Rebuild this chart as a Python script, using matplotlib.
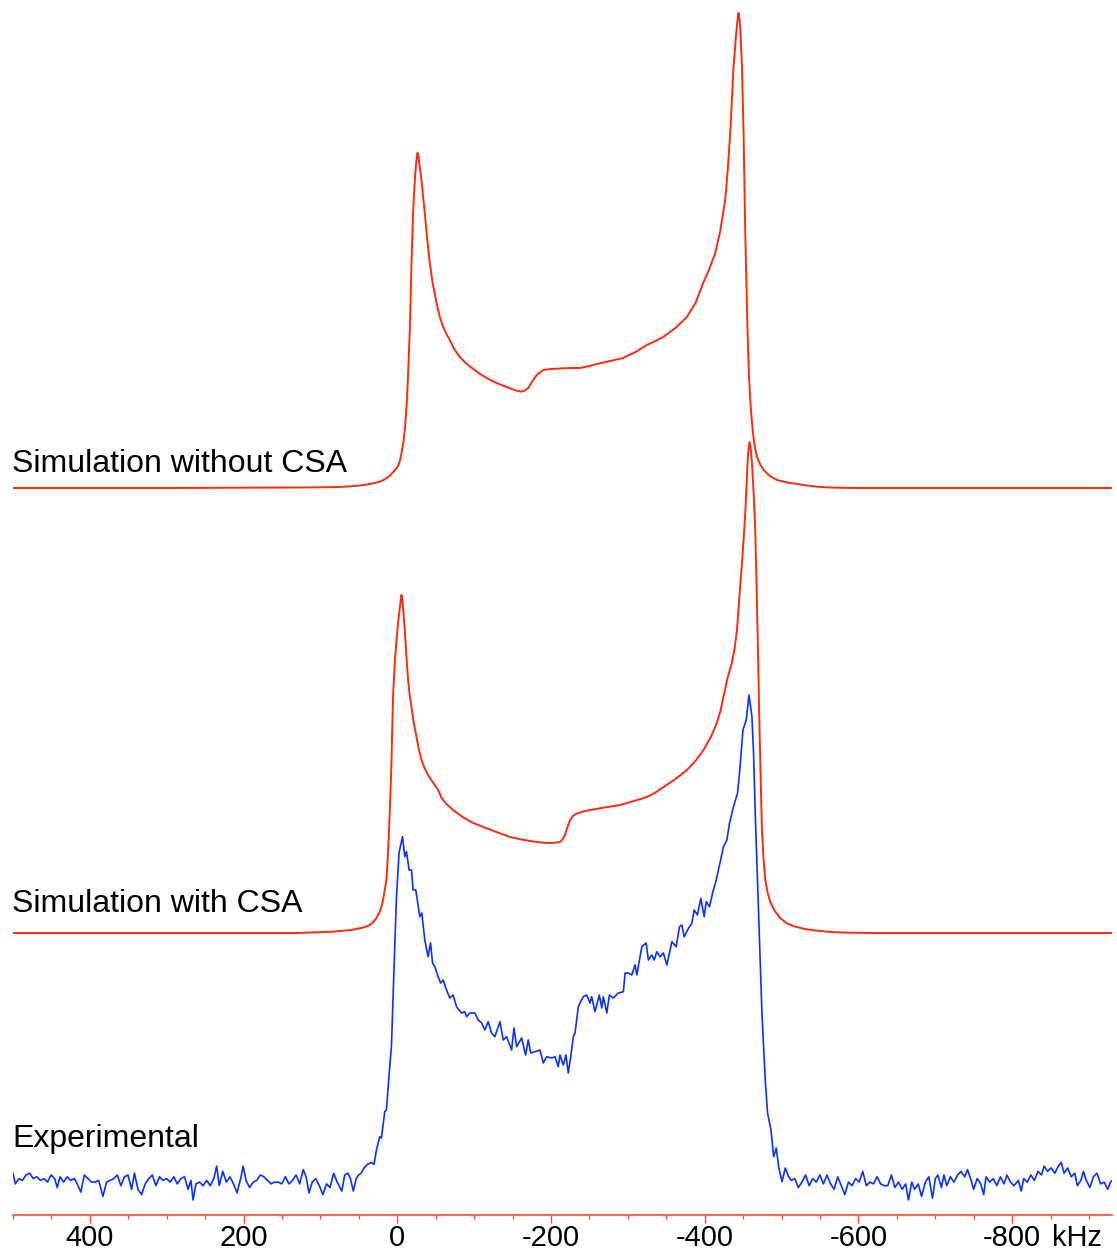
import matplotlib
matplotlib.use("Agg")
import matplotlib.pyplot as plt
from matplotlib.ticker import MultipleLocator, FixedLocator

plt.rcParams['font.family'] = ['Liberation Sans', 'DejaVu Sans']
plt.rcParams['axes.unicode_minus'] = False

# --- spectra: frequency (kHz) and intensity above each trace's own baseline (a.u.) ---

# simulation, quadrupolar interaction only
nocsa_khz = [500, 300, 200, 127, 100, 75, 60, 49, 42, 36, 29, 23, 18, 13.7, 10, 7.2, 4, 0.7,
             -1.5, -3.3, -4.8, -5.9, -8, -9.8, -11.3, -12.8, -14.5, -16.3, -17.4, -18.5,
             -19.6, -20.6, -22, -23.5, -25, -26.3, -27.5, -28.7, -30, -31.5, -33.5, -35.8,
             -38.5, -42.3, -46, -51.1, -55, -59.7, -64, -68.4, -74, -81.4, -89, -97.1,
             -106, -116.2, -129, -142.3, -154.4, -161.8, -166.1, -170.4, -175.2, -181.4,
             -190, -200, -211.7, -225, -237.8, -250, -259.5, -277, -293.8, -310, -324.7,
             -336, -345.9, -362, -376.8, -388, -398, -406, -413.7, -420, -426.7, -430,
             -433.2, -435.5, -437.5, -439.5, -441, -443, -444, -445.2, -446.3, -448.5,
             -450.6, -452.8, -455.8, -457.5, -459.3, -461, -462.8, -465, -468, -472,
             -476.6, -485, -494.1, -507, -520.1, -533, -546.2, -560, -572.2, -600, -930]
nocsa_int = [0, 0, 0.3, 0.5, 0.7, 1, 1.7, 2.5, 3.2, 4, 5, 6.3, 8, 10, 12, 14.5, 17, 20,
             23, 27, 32, 37, 46, 58, 73, 91, 122, 158, 190, 225,
             252, 275, 297, 315, 328, 335, 332, 325, 317, 308, 292, 275,
             252, 225, 205, 185, 172, 161, 154, 148, 139, 131, 125, 120,
             115, 110, 105, 101, 97.5, 96.3, 97.5, 100, 106, 113,
             118, 119, 119.5, 120, 120, 122, 124, 127, 130, 136, 143,
             147, 151, 160, 171, 185, 205, 219, 235, 256, 288, 318,
             355, 390, 421, 440, 455, 470, 475, 470, 460, 421,
             355, 255, 155, 115, 88, 70, 55, 42, 31, 24,
             18, 12, 8, 5.5, 4, 2.5, 1.3, 0.6, 0.3, 0, 0]

# simulation including chemical shift anisotropy
csa_khz = [500, 131, 84, 60, 48.9, 42, 35.8, 31, 27.1, 23.5, 20.6, 18.5, 16.3, 14.1, 12.4,
           10.7, 9.1, 7.6, 5.5, 3.3, 1, -1.0, -3.3, -4.5, -5.5, -6.5, -7.6, -9.8, -12,
           -14.1, -16.3, -18.5, -21.5, -25.0, -28, -31.5, -35.5, -40.1, -46, -53.2, -57.6,
           -64, -72.7, -85, -98.8, -122, -146.6, -165, -181.4, -190, -198.7, -205, -211.7,
           -215, -218.2, -221.5, -224.8, -229, -235.6, -242, -250.8, -270, -289.9, -308,
           -324.7, -336, -346.3, -362, -376.8, -388, -398.4, -408, -415.9, -420.5, -424.4,
           -430, -435.4, -439, -442, -445.5, -448.5, -450.8, -452.8, -454.5, -455.8, -457,
           -458.4, -460, -461.5, -463.7, -465.8, -467.3, -468.8, -470, -471.4, -473, -474.5,
           -476.5, -478.8, -482, -485.3, -491, -498.4, -506, -515.3, -530, -546.2, -565,
           -585.3, -619.5, -930]
csa_int = [0, 0, 1.3, 3, 4.7, 6, 8, 11, 15, 20, 26, 33, 43, 53, 75,
           103, 135, 170, 236, 270, 293, 310, 325, 333, 338, 333, 325, 303, 275,
           253, 237, 226, 210, 196, 184, 173, 165, 158, 151, 143, 135,
           129, 123, 116, 110, 103, 96, 93, 91, 90.3, 90, 90.3, 91,
           93.5, 98, 106, 113, 117.5, 120, 121.5, 123, 125.5, 128, 132,
           136, 140.5, 146, 154, 163, 172, 183, 196, 210, 222, 236,
           256, 270, 285, 303, 340, 370, 395, 420, 448, 470, 484,
           491, 484, 470, 440, 403, 355, 303, 255, 203, 150, 103,
           75, 53, 40, 31, 22, 15, 10, 7, 4, 2.3, 1,
           0.3, 0, 0]

# measured spectrum
exp_khz = [500, 497.0, 492.3, 487.7, 483.0, 478.3, 473.7, 469.0, 464.4, 459.7, 455.1, 450.4,
           445.8, 442.5, 438.8, 434.1, 429.5, 424.8, 420.2, 416.5, 411.8, 407.2, 402.5, 397.9,
           393.2, 388.5, 383.0, 378.3, 373.6, 369.0, 364.3, 359.7, 355.0, 350.4, 345.7, 342.0,
           337.4, 332.7, 328.0, 323.4, 318.7, 314.1, 309.4, 304.8, 300.1, 295.5, 290.8, 286.2,
           281.5, 276.9, 272.2, 268.5, 265.7, 262.0, 257.3, 252.7, 248.0, 243.4, 238.7, 235.0,
           231.7, 227.1, 222.4, 217.8, 213.1, 208.5, 203.8, 200.5, 196.8, 192.2, 187.5, 182.9,
           178.2, 173.5, 168.9, 164.2, 159.6, 154.9, 150.3, 145.6, 141.0, 136.3, 131.7, 127.0,
           122.4, 118.6, 114.9, 110.7, 106.1, 101.4, 96.8, 92.1, 87.5, 82.8, 78.2, 72.1,
           68.4, 64.2, 61.0, 57.2, 53.5, 50.3, 47.0, 43.3, 38.6, 34.0, 30.2,
           27.1, 22.8, 20.6, 16.3, 14.1, 9.8, 7.6, 5.5, 3.3, 1.0, -2.3, -6.8,
           -9.8, -12.0, -15.4, -18.5, -20.6, -24.1, -29.3, -31.9, -35.8, -40.1, -43.3, -45.9,
           -48.9, -53.2, -56.3, -59.7, -64.1, -68.4, -72.7, -77.1, -83.6, -87.9, -90.2, -94.5,
           -101.0, -105.3, -109.7, -114.0, -118.3, -122.7, -127.0, -133.6, -137.9, -142.3, -148.8, -151.8,
           -155.3, -161.8, -167.0, -170.4, -173.6, -179.2, -185.7, -190.0, -194.4, -200.9, -205.2, -209.5,
           -211.7, -216.0, -219.5, -222.5, -225.7, -229.1, -231.3, -235.6, -237.8, -242.1, -246.5, -250.8,
           -253.0, -257.3, -262.9, -266.1, -268.1, -272.6, -276.0, -281.2, -287.7, -294.2, -296.4, -300.7,
           -305.1, -309.4, -311.7, -318.2, -323.8, -326.8, -331.2, -334.2, -337.7, -342.0, -346.3, -350.8,
           -357.3, -362.9, -367.2, -370.3, -373.3, -378.9, -383.3, -386.3, -390.6, -395.0, -399.3, -402.0,
           -406.3, -410.7, -415.0, -419.3, -424.5, -428.9, -432.3, -437.5, -442.7, -445.3, -449.8, -454.1,
           -457.6, -461.5, -463.6, -465.8, -470.1, -474.5, -478.8, -481.8, -486.3, -489.7, -493.2, -496.2,
           -500.6, -504.9, -509.2,
           -512.6, -517.2, -521.9, -526.6, -531.2, -535.9, -540.5, -545.2, -549.8, -554.5, -559.1, -563.8,
           -568.4, -573.1, -577.7, -582.4, -587.0, -591.7, -596.4, -601.0, -605.7, -610.3, -615.0, -619.6,
           -624.3, -628.9, -633.6, -638.2, -642.9, -647.5, -652.2, -656.9, -661.5, -665.2, -669.4, -673.1,
           -677.8, -682.2, -687.1, -691.7, -696.4, -700.1, -703.4, -708.0, -711.3, -715.0, -719.7, -724.3,
           -729.0, -733.6, -738.3, -742.0, -746.7, -749.9, -754.6, -759.2, -763.0, -766.2, -770.9, -775.5,
           -780.2, -784.8, -789.5, -793.2, -797.9, -802.5, -808.1, -811.8, -815.1, -819.7, -824.4, -829.0,
           -833.7, -838.3, -841.6, -846.2, -850.9, -855.5, -860.2, -863.9, -867.6, -872.3, -876.9, -881.6,
           -884.9, -889.5, -892.8, -896.5, -901.2, -905.8, -910.5, -915.1, -919.8, -924.4, -928.1, -930.5]
exp_int = [6.8, -3.9, 1.4, -0.4, 5.0, 6.8, 1.4, 3.2, -0.4, 1.4, -2.1, 5.0,
           1.4, -7.5, 3.2, -2.1, 3.2, -0.4, 1.4, -3.9, -12.1, 5.0, 1.4, -2.1,
           -2.1, -0.4, -16.4, -2.1, -0.4, 1.4, 5.0, -5.7, 3.2, 5.0, -9.3, 6.8,
           -9.3, -14.6, -3.9, 1.4, 5.0, -5.7, 3.2, -0.4, 1.4, -2.1, 3.2, -3.9,
           1.4, 3.2, -9.3, -0.4, -20, -3.9, -2.1, -5.7, -0.4, -5.7, 1.4, 13.9,
           -5.7, 8.6, -2.1, 3.2, -3.9, -12.9, 1.4, 13.9, -0.4, -7.5, -2.1, -0.4,
           5.0, 3.2, -0.4, -3.9, -2.1, -2.1, -3.9, 3.2, -3.9, -0.4, 5.0, -3.9,
           10.4, 3.2, -12.9, -2.1, 1.4, -5.7, -14.6, -3.9, -7.5, 6.8, -2.1, -11.1,
           5.0, 6.8, 1.4, -11.1, 1.4, 5.0, 6.8, 12.1, 15.7, 17.5, 15.7,
           30, 43.3, 42, 68.3, 70, 113.3, 133.3, 183.3, 233.3, 283.3, 327, 343.3,
           323.3, 328.3, 310, 310, 290, 290, 263.3, 267, 240, 223.3, 237, 217,
           213.3, 203.3, 197, 200, 190, 182, 185, 173.3, 167, 168.3, 163.3, 167,
           167, 160, 157, 150, 158.3, 147, 143.3, 158.3, 140, 143.3, 130, 152,
           133.3, 142, 125, 140, 127, 128.3, 130, 117, 123.3, 122, 123.3, 113.3,
           125, 115, 125, 107, 123.3, 143.3, 147, 173.3, 177, 183.3, 185, 177,
           183.3, 168.3, 185, 172, 183.3, 167, 185, 182, 187, 188.3, 207, 207,
           205, 215, 205, 233.3, 237, 220, 225, 220, 228.3, 223.3, 227, 215,
           238.3, 233.3, 253.3, 255, 243.3, 251.7, 256.7, 270, 265, 281.7, 263.3, 278.3,
           273.3, 288.3, 300, 315, 333.3, 340, 356.7, 373.3, 386.7, 406.7, 450, 460,
           485, 463.3, 426.7, 366.7, 266.7, 167, 100, 67, 50, 23.3, 32, 13.3,
           -1.7, 12, 3.3,
           -0.4, 1.4, -7.5, -2.1, 5.0, -5.7, 1.4, -2.1, 5.0, -3.9, 5.0, -3.9,
           -9.3, 3.2, -5.7, -14.6, -2.1, -5.7, 1.4, -2.1, 8.6, -5.7, -2.1, -3.9,
           3.2, -3.9, -5.7, -5.7, 5.0, -7.5, -2.1, -9.3, -3.9, -20, -2.1, -9.3,
           -3.9, -16.4, -2.1, 3.2, -18.2, 1.4, 5.0, -7.5, 5.0, -5.7, 3.2, -2.1,
           5.0, 8.6, 3.2, 10.4, -0.4, -9.3, 1.4, -3.9, -14.6, 3.2, -2.1, 1.4,
           -5.7, 3.2, -3.9, 5.0, -2.1, -5.7, -0.4, -11.1, 1.4, -2.1, 5.0, -0.4,
           8.6, 5.0, 13.9, 8.6, 12.1, 6.8, 13.9, 17.5, 6.8, 12.1, 3.2, 6.8,
           -5.7, -0.4, 8.6, -0.4, -7.5, 3.2, 6.8, -3.9, -2.1, -9.3, -2.1, -0.4]

labels = ["Simulation without CSA", "Simulation with CSA", "Experimental"]
major_ticks = [400, 200, 0, -200, -400, -600, -800]

# vertical stacking of the three traces
offsets = [727.4, 282.4, 35.4]
label_y = [743, 303.5, 68]
red = "#ff2a0d"
blue = "#0a32ff"
axis_red = "#ff4a30"

fig = plt.figure(figsize=(11.17, 12.53), dpi=100)
ax = fig.add_axes([13 / 1117, 37.6 / 1253, 1099 / 1117, 1215.4 / 1253])

ax.plot(nocsa_khz, [offsets[0] + v for v in nocsa_int], color=red, lw=1.4)
ax.plot(csa_khz, [offsets[1] + v for v in csa_int], color=red, lw=1.4)
ax.plot(exp_khz, [offsets[2] + v for v in exp_int], color=blue, lw=1.2)

for text, y in zip(labels, label_y):
    ax.text(501, y, text, fontsize=23, ha='left', va='baseline')

ax.set_xlim(500, -930)
ax.set_ylim(0, 1215.4)

for side in ['top', 'left', 'right']:
    ax.spines[side].set_visible(False)
ax.spines['bottom'].set_color(axis_red)
ax.spines['bottom'].set_linewidth(1.2)

ax.xaxis.set_major_locator(FixedLocator(major_ticks))
ax.xaxis.set_minor_locator(MultipleLocator(50))
ax.set_xticklabels([str(t) for t in major_ticks])
ax.tick_params(axis='x', which='major', length=5.5, width=1, color=axis_red,
               labelsize=21, pad=0.5)
ax.tick_params(axis='x', which='minor', length=3, width=1, color=axis_red)
ax.set_yticks([])

ax.annotate("kHz", xy=(-884, 0), xycoords=('data', 'axes fraction'),
            xytext=(0, -6), textcoords='offset points',
            ha='center', va='top', fontsize=21)

fig.savefig("out.png", dpi=100)
